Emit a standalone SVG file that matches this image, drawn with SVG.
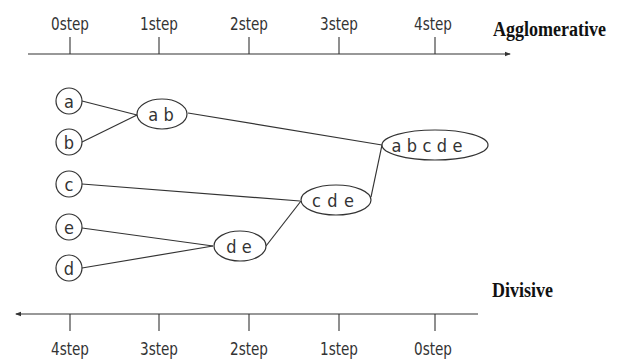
<svg xmlns="http://www.w3.org/2000/svg" width="620" height="360" viewBox="0 0 620 360">
  <style>
    .axis { stroke: #333; stroke-width: 1.2; fill: none; }
    .tick { stroke: #333; stroke-width: 1.1; }
    .step { font-family: "DejaVu Sans Condensed", "DejaVu Sans", "Liberation Sans", sans-serif; font-size: 17px; fill: #333; text-anchor: middle; }
    .title { font-family: "Liberation Serif", serif; font-weight: bold; font-size: 20px; fill: #111; }
    .node { fill: #fff; stroke: #333; stroke-width: 1.2; }
    .lbl { font-family: "DejaVu Sans Condensed", "DejaVu Sans", sans-serif; font-size: 18px; fill: #333; text-anchor: middle; dominant-baseline: central; }
    .edge { stroke: #333; stroke-width: 1.2; fill: none; }
  </style>
  <defs>
    <marker id="arrow" viewBox="0 0 6 6" refX="5" refY="3" markerWidth="6" markerHeight="6" orient="auto" markerUnits="userSpaceOnUse">
      <path d="M0,0.8 L6,3 L0,5.2 z" fill="#333"/>
    </marker>
  </defs>
  <rect width="620" height="360" fill="#fff"/>

  <!-- agglomerative axis (top) -->
  <g id="top-axis">
    <line class="axis" x1="28" y1="54" x2="510" y2="54" marker-end="url(#arrow)"/>
    <line class="tick" x1="70" y1="37" x2="70" y2="54"/>
    <line class="tick" x1="159" y1="37" x2="159" y2="54"/>
    <line class="tick" x1="249" y1="37" x2="249" y2="54"/>
    <line class="tick" x1="339" y1="37" x2="339" y2="54"/>
    <line class="tick" x1="435" y1="37" x2="435" y2="54"/>
    <text class="step" x="70" y="30" textLength="38" lengthAdjust="spacingAndGlyphs">0step</text>
    <text class="step" x="159" y="30" textLength="38" lengthAdjust="spacingAndGlyphs">1step</text>
    <text class="step" x="249" y="30" textLength="38" lengthAdjust="spacingAndGlyphs">2step</text>
    <text class="step" x="339" y="30" textLength="38" lengthAdjust="spacingAndGlyphs">3step</text>
    <text class="step" x="433" y="30" textLength="38" lengthAdjust="spacingAndGlyphs">4step</text>
    <text class="title" x="493" y="36" textLength="113" lengthAdjust="spacingAndGlyphs">Agglomerative</text>
  </g>

  <!-- divisive axis (bottom) -->
  <g id="bottom-axis">
    <line class="axis" x1="478" y1="314" x2="16" y2="314" marker-end="url(#arrow)"/>
    <line class="tick" x1="70" y1="314" x2="70" y2="331"/>
    <line class="tick" x1="159" y1="314" x2="159" y2="331"/>
    <line class="tick" x1="249" y1="314" x2="249" y2="331"/>
    <line class="tick" x1="339" y1="314" x2="339" y2="331"/>
    <line class="tick" x1="435" y1="314" x2="435" y2="331"/>
    <text class="step" x="70" y="355" textLength="38" lengthAdjust="spacingAndGlyphs">4step</text>
    <text class="step" x="159" y="355" textLength="38" lengthAdjust="spacingAndGlyphs">3step</text>
    <text class="step" x="249" y="355" textLength="38" lengthAdjust="spacingAndGlyphs">2step</text>
    <text class="step" x="339" y="355" textLength="38" lengthAdjust="spacingAndGlyphs">1step</text>
    <text class="step" x="433" y="355" textLength="38" lengthAdjust="spacingAndGlyphs">0step</text>
    <text class="title" x="492" y="297" textLength="61" lengthAdjust="spacingAndGlyphs">Divisive</text>
  </g>

  <!-- merge connectors -->
  <g id="connectors">
    <line class="edge" x1="82" y1="101" x2="137" y2="115"/>
    <line class="edge" x1="82" y1="142" x2="137" y2="115"/>
    <line class="edge" x1="188" y1="113" x2="382" y2="145"/>
    <line class="edge" x1="82" y1="184" x2="300" y2="201"/>
    <line class="edge" x1="82" y1="228" x2="213" y2="246"/>
    <line class="edge" x1="82" y1="268" x2="213" y2="246"/>
    <line class="edge" x1="266" y1="246" x2="301" y2="201"/>
    <line class="edge" x1="371" y1="197" x2="382" y2="145"/>
  </g>

  <!-- leaves -->
  <g id="node-a"><circle class="node" cx="69" cy="101" r="13"/><text class="lbl" x="69" y="101">a</text></g>
  <g id="node-b"><circle class="node" cx="69" cy="142" r="13"/><text class="lbl" x="69" y="142">b</text></g>
  <g id="node-c"><circle class="node" cx="69" cy="184" r="13"/><text class="lbl" x="69" y="184">c</text></g>
  <g id="node-e"><circle class="node" cx="69" cy="227" r="13"/><text class="lbl" x="69" y="227">e</text></g>
  <g id="node-d"><circle class="node" cx="69" cy="268" r="13"/><text class="lbl" x="69" y="268">d</text></g>

  <!-- clusters -->
  <g id="node-ab"><ellipse class="node" cx="162" cy="114" rx="25" ry="15"/><text class="lbl" x="161" y="114">a b</text></g>
  <g id="node-de"><ellipse class="node" cx="240" cy="246" rx="26" ry="15"/><text class="lbl" x="239" y="246">d e</text></g>
  <g id="node-cde"><ellipse class="node" cx="336" cy="200" rx="35" ry="15"/><text class="lbl" x="333" y="200" textLength="42" lengthAdjust="spacing">c d e</text></g>
  <g id="node-abcde"><ellipse class="node" cx="435" cy="145" rx="53" ry="15"/><text class="lbl" x="427" y="145" textLength="71" lengthAdjust="spacing">a b c d e</text></g>
</svg>
